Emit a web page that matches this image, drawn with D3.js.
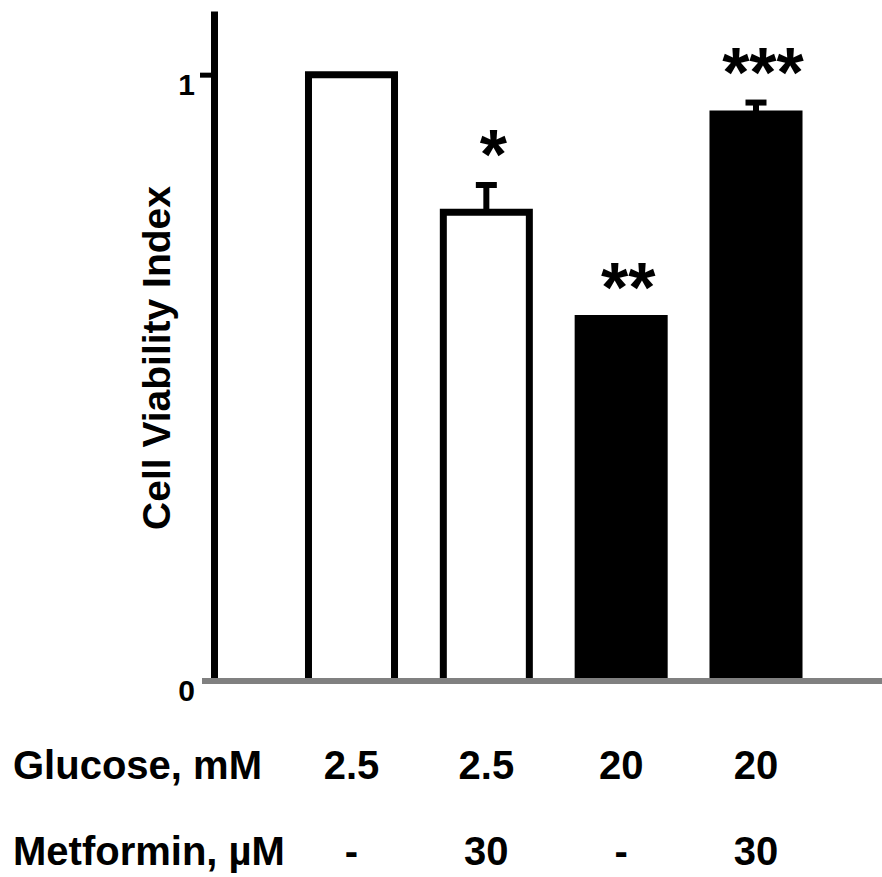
<!DOCTYPE html>
<html>
<head>
<meta charset="utf-8">
<script src="https://cdn.jsdelivr.net/npm/d3@7"></script>
<style>
  html, body { margin: 0; padding: 0; background: #fff; }
  svg { display: block; font-family: "Liberation Sans", Arial, sans-serif; }
</style>
</head>
<body>
<svg id="chart" width="882" height="877"></svg>
<script>
// ---- data ----
const categories = ["G2.5", "G2.5+M30", "G20", "G20+M30"];
const glucose = ["2.5", "2.5", "20", "20"];
const metformin = ["-", "30", "-", "30"];
const viability = [1.0, 0.773, 0.598, 0.935];
const errors = [0, 0.045, 0, 0.019];
const significance = ["", "*", "**", "***"];
const yTickValues = [0, 1];
const rowLabels = ["Glucose, mM", "Metformin, \u00b5M"];
const yLabel = "Cell Viability Index";

// ---- scales ----
const svg = d3.select("#chart");
const y = d3.scaleLinear().domain([0, 1.105]).range([681, 11]);
const x = d3.scalePoint().domain(categories).range([351.5, 756]);
const barW = x.step() * 0.638;
const fill = d3.scaleOrdinal().domain(["2.5", "20"]).range(["#ffffff", "#000000"]);

// ---- y axis ----
const axisX = 214;
const yAxis = d3.axisLeft(y).tickValues(yTickValues).tickSize(14).tickSizeOuter(0).tickPadding(5)
  .tickFormat(d3.format("d"));
const gA = svg.append("g").attr("transform", `translate(${axisX},0)`).call(yAxis);
gA.select(".domain").attr("stroke", "#000").attr("stroke-width", 7);
gA.selectAll(".tick line").attr("stroke", "#000").attr("stroke-width", 5);
gA.selectAll(".tick").filter(d => d === 0).select("line").remove();
gA.selectAll(".tick text")
  .attr("fill", "#000")
  .attr("font-size", 30)
  .attr("font-weight", "bold")
  .attr("font-family", "'Liberation Sans', Arial, sans-serif")
  .attr("dy", "0.66em");

// ---- bars ----
const data = categories.map((c, i) => ({ c, v: viability[i], e: errors[i], g: glucose[i], s: significance[i] }));

svg.append("g").selectAll("path.bar").data(data).join("path")
  .attr("class", "bar")
  .attr("d", d => {
    const x0 = x(d.c) - barW / 2, x1 = x(d.c) + barW / 2;
    return `M${x0},${y(0)}L${x0},${y(d.v)}L${x1},${y(d.v)}L${x1},${y(0)}`;
  })
  .attr("fill", d => fill(d.g))
  .attr("stroke", "#000")
  .attr("stroke-width", 7)
  .attr("stroke-linejoin", "miter");

// ---- error bars ----
const eb = svg.append("g").selectAll("g").data(data.filter(d => d.e > 0)).join("g");
eb.append("line")
  .attr("x1", d => x(d.c)).attr("x2", d => x(d.c))
  .attr("y1", d => y(d.v)).attr("y2", d => y(d.v + d.e))
  .attr("stroke", "#000").attr("stroke-width", 6);
eb.append("line")
  .attr("x1", d => x(d.c) - 10.5).attr("x2", d => x(d.c) + 10.5)
  .attr("y1", d => y(d.v + d.e)).attr("y2", d => y(d.v + d.e))
  .attr("stroke", "#000").attr("stroke-width", 6);

// ---- zero line ----
svg.append("line")
  .attr("x1", 202).attr("x2", 882)
  .attr("y1", y(0)).attr("y2", y(0))
  .attr("stroke", "#808080").attr("stroke-width", 6);

// ---- significance stars ----
svg.append("g").selectAll("text").data(data.filter(d => d.s)).join("text")
  .attr("x", d => x(d.c) + 7)
  .attr("y", d => y(d.v + d.e) - 45 + 39)
  .attr("text-anchor", "middle")
  .attr("font-size", 70)
  .attr("font-weight", "bold")
  .attr("fill", "#000")
  .text(d => d.s);

// ---- y label ----
svg.append("text")
  .attr("transform", "translate(170,358) rotate(-90)")
  .attr("text-anchor", "middle")
  .attr("font-size", 39)
  .attr("font-weight", "bold")
  .attr("fill", "#000")
  .text(yLabel);

// ---- condition table ----
const rows = [glucose, metformin];
const rowY = [779, 865];
rows.forEach((vals, r) => {
  svg.append("text")
    .attr("x", 13).attr("y", rowY[r])
    .attr("font-size", 40).attr("font-weight", "bold").attr("fill", "#000")
    .text(rowLabels[r]);
  svg.append("g").selectAll("text").data(vals).join("text")
    .attr("x", (d, i) => x(categories[i]))
    .attr("y", rowY[r])
    .attr("text-anchor", "middle")
    .attr("font-size", 40).attr("font-weight", "bold").attr("fill", "#000")
    .text(d => d);
});
</script>
</body>
</html>
